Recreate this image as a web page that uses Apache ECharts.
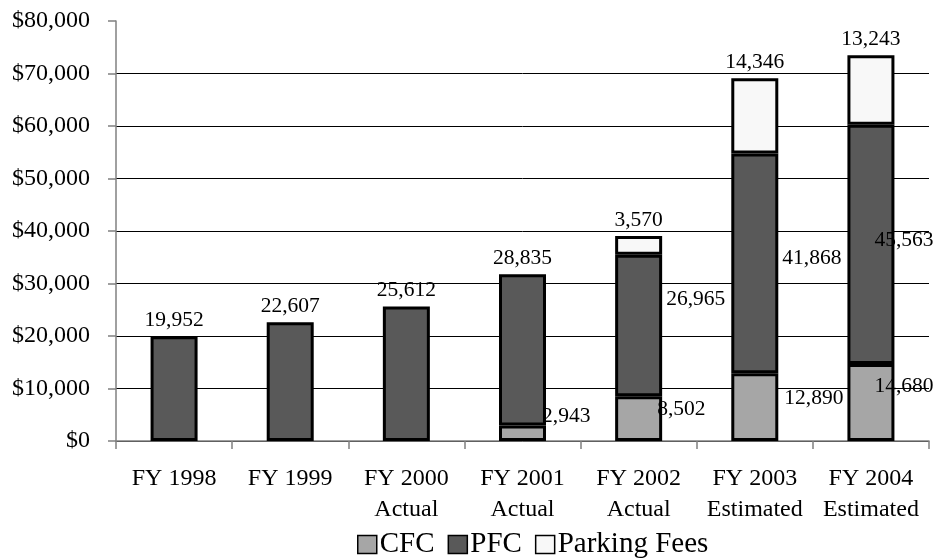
<!DOCTYPE html>
<html>
<head>
<meta charset="utf-8">
<script src="https://cdn.jsdelivr.net/npm/echarts@6/dist/echarts.min.js"></script>
<style>html,body{margin:0;padding:0;background:#fff}#c{width:935px;height:559px}</style>
</head>
<body>
<div id="c"></div>
<script>
var categories = ['FY 1998', 'FY 1999', 'FY 2000\nActual', 'FY 2001\nActual', 'FY 2002\nActual', 'FY 2003\nEstimated', 'FY 2004\nEstimated'];
var cfc = [null, null, null, 2943, 8502, 12890, 14680];
var pfc = [19952, 22607, 25612, 28835, 26965, 41868, 45563];
var parking = [null, null, null, null, 3570, 14346, 13243];
var yTicks = [0, 10000, 20000, 30000, 40000, 50000, 60000, 70000, 80000];

// label placement (layout only)
var cfcLabelOffset = [null, null, null, [-9, -17], [-10, -9], [1, -9], [-25, -16]];
var pfcLabelPos = ['top', 'top', 'top', 'top', 'right', 'right', 'right'];
var pfcLabelOffset = [[0, 0], [0, 0], [0, 0], [0, 0], [-1, -26], [-1, -5], [-25, -4]];

var FONT = 'Liberation Serif';
function fmt(v) { return v.toLocaleString('en-US'); }

function build(values, posArr, offArr) {
  return values.map(function (v, i) {
    var item = { value: v };
    if (v != null) {
      item.label = {
        show: true,
        position: posArr ? posArr[i] : 'top',
        offset: offArr && offArr[i] ? offArr[i] : [0, 0]
      };
    }
    return item;
  });
}

var baseLabel = { fontFamily: FONT, fontSize: 21.5, color: '#000', formatter: function (p) { return fmt(p.value); } };
var itemBase = { borderColor: '#000', borderWidth: 3 };

var chart = echarts.init(document.getElementById('c'), null, { renderer: 'canvas' });
chart.setOption({
  animation: false,
  backgroundColor: '#fff',
  grid: { left: 116, right: 6, top: 21, bottom: 118, containLabel: false },
  legend: {
    top: 525,
    left: 352,
    icon: 'rect',
    itemWidth: 19,
    itemHeight: 18,
    itemGap: 13,
    textStyle: { fontFamily: FONT, fontSize: 29, color: '#000', padding: [0, 0, 0, -2] },
    data: [
      { name: 'CFC', itemStyle: { color: '#a6a6a6', borderColor: '#000', borderWidth: 1.5 } },
      { name: 'PFC', itemStyle: { color: '#595959', borderColor: '#000', borderWidth: 1.5 } },
      { name: 'Parking Fees', itemStyle: { color: '#f8f8f8', borderColor: '#000', borderWidth: 1.5 } }
    ]
  },
  xAxis: {
    type: 'category',
    data: categories,
    boundaryGap: true,
    axisLine: { lineStyle: { color: '#808080', width: 1.5 } },
    axisTick: { show: true, alignWithLabel: false, length: 8, lineStyle: { color: '#808080', width: 1.5 } },
    axisLabel: { fontFamily: FONT, fontSize: 24, color: '#000', margin: 22, lineHeight: 31, interval: 0 }
  },
  yAxis: {
    type: 'value',
    min: yTicks[0],
    max: yTicks[yTicks.length - 1],
    interval: yTicks[1] - yTicks[0],
    axisLine: { show: true, lineStyle: { color: '#808080', width: 1.5 } },
    axisTick: { show: true, inside: false, length: 8, lineStyle: { color: '#808080', width: 1.5 } },
    axisLabel: { fontFamily: FONT, fontSize: 24, color: '#000', margin: 26, formatter: function (v) { return '$' + fmt(v); } },
    splitLine: { show: true, lineStyle: { color: ['#000', '#000', '#000', '#000', '#000', '#000', '#000', '#000', 'rgba(0,0,0,0)'], width: 1 } }
  },
  series: [
    { name: 'CFC', type: 'bar', stack: 'a', barWidth: 47, data: build(cfc, ['right','right','right','right','right','right','right'], cfcLabelOffset), itemStyle: Object.assign({ color: '#a6a6a6' }, itemBase), label: baseLabel },
    { name: 'PFC', type: 'bar', stack: 'a', barWidth: 47, data: build(pfc, pfcLabelPos, pfcLabelOffset), itemStyle: Object.assign({ color: '#595959' }, itemBase), label: baseLabel },
    { name: 'Parking Fees', type: 'bar', stack: 'a', barWidth: 47, data: build(parking, null, null), itemStyle: Object.assign({ color: '#f8f8f8' }, itemBase), label: baseLabel }
  ]
});
</script>
</body>
</html>
